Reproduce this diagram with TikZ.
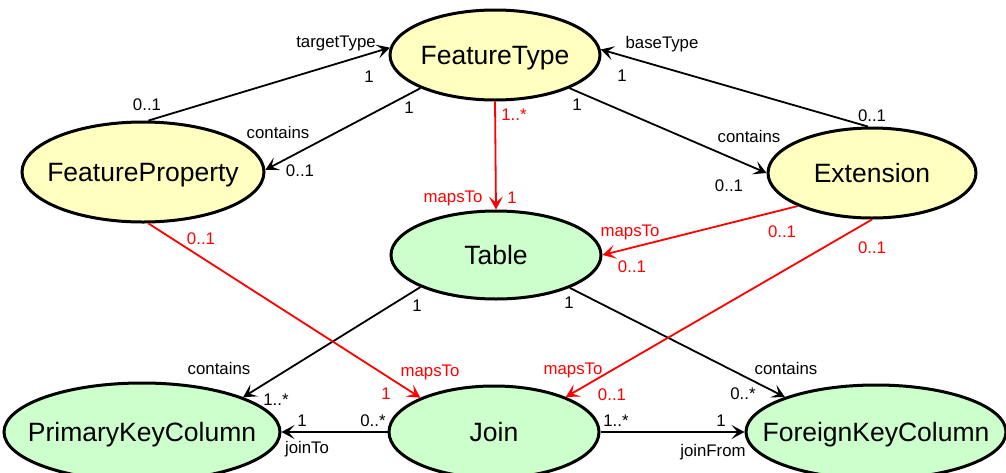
\documentclass[tikz,border=0pt]{standalone}
\usepackage{fontspec}
\setmainfont{Liberation Sans}
\usetikzlibrary{shapes.geometric,arrows.meta}
\definecolor{typefill}{RGB}{255,255,192}
\definecolor{tablefill}{RGB}{204,255,204}
\definecolor{mapred}{RGB}{255,0,0}
% entity name set in a zero-size box, so the ellipse keeps its given size
\newcommand{\entname}[1]{\smash{\raisebox{-0.36em}{\makebox[0pt]{#1}}}}
\tikzset{
  entity/.style={ellipse, draw=black, line width=3pt, inner sep=0pt,
    text height=0pt, text depth=0pt,
    font=\fontsize{26.5}{30}\selectfont},
  typeent/.style={entity, fill=typefill},
  tableent/.style={entity, fill=tablefill},
  assoc/.style={line width=1.8pt, draw=black,
    -{Stealth[length=13pt,width=14pt,inset=6pt]}},
  mapassoc/.style={assoc, draw=mapred, color=mapred},
  lbl/.style={inner sep=0pt, text height=12pt, text depth=0pt,
    font=\fontsize{16.8}{19}\selectfont},
  redlbl/.style={lbl, text=mapred}
}
\begin{document}
\begin{tikzpicture}[x=1pt,y=-1pt]
\useasboundingbox (0,0) rectangle (1006,472);
\begin{scope}
\clip (0,0) rectangle (1006,472);

% entities
\node[typeent, minimum width=210pt, minimum height=90pt] (ft) at (495,55) {\entname{FeatureType}};
\node[typeent, minimum width=242pt, minimum height=100pt] (fp) at (143,172) {\entname{FeatureProperty}};
\node[typeent, minimum width=208pt, minimum height=90pt] (ex) at (872,173) {\entname{Extension}};
\node[tableent, minimum width=210pt, minimum height=88pt] (tb) at (496,255) {\entname{Table}};
\node[tableent, minimum width=210pt, minimum height=92pt] (jn) at (494,432) {\entname{Join}};
\node[tableent, minimum width=276pt, minimum height=98pt] (pk) at (142,432) {\entname{PrimaryKeyColumn}};
\node[tableent, minimum width=260pt, minimum height=94pt] (fk) at (876,432) {\entname{ForeignKeyColumn}};

% black associations
\draw[assoc] (fp.84) -- (ft.176);
\draw[assoc] (ft.204) -- (fp.1);
\draw[assoc] (ex.95) -- (ft.3);
\draw[assoc] (ft.336) -- (ex.180);
\draw[assoc] (tb.203) -- (pk.19);
\draw[assoc] (tb.336) -- (fk.159);
\draw[assoc] (jn.180) -- (pk.0);
\draw[assoc] (jn.0) -- (fk.180);

% red mapping associations
\draw[mapassoc] (ft.270) -- (tb.90);
\draw[mapassoc] (ex.204) -- (tb.0);
\draw[mapassoc] (ex.270) -- (jn.26);
\draw[mapassoc] (fp.276) -- (jn.155);
\end{scope}

% labels of the black associations
\node[lbl] (l1) at (336,41) {targetType};
\node[lbl] (l2) at (369,76) {1};
\node[lbl] (l3) at (147,104) {0..1};
\node[lbl] (l4) at (278,132) {contains};
\node[lbl] (l5) at (409,107) {1};
\node[lbl] (l6) at (300,170) {0..1};
\node[lbl] (l7) at (662,42) {baseType};
\node[lbl] (l8) at (622,75) {1};
\node[lbl] (l9) at (872,115) {0..1};
\node[lbl] (l10) at (749,136) {contains};
\node[lbl] (l11) at (577,104) {1};
\node[lbl] (l12) at (729,185) {0..1};
\node[lbl] (l13) at (417,305) {1};
\node[lbl] (l14) at (219,368) {contains};
\node[lbl] (l15) at (276,399) {1..*};
\node[lbl] (l16) at (569,302) {1};
\node[lbl] (l17) at (786,368) {contains};
\node[lbl] (l18) at (743,393) {0..*};
\node[lbl] (l19) at (302,420) {1};
\node[lbl] (l20) at (373,420) {0..*};
\node[lbl] (l21) at (307,447) {joinTo};
\node[lbl] (l22) at (616,420) {1..*};
\node[lbl] (l23) at (721,420) {1};
\node[lbl] (l24) at (713,450) {joinFrom};

% labels of the red mapping associations
\node[redlbl] (r1) at (514,114) {1..*};
\node[redlbl] (r2) at (453,196) {mapsTo};
\node[redlbl] (r3) at (512,197) {1};
\node[redlbl] (r4) at (630,230) {mapsTo};
\node[redlbl] (r5) at (632,266) {0..1};
\node[redlbl] (r6) at (782,231) {0..1};
\node[redlbl] (r7) at (872,247) {0..1};
\node[redlbl] (r8) at (573,368) {mapsTo};
\node[redlbl] (r9) at (612,394) {0..1};
\node[redlbl] (r10) at (201,238) {0..1};
\node[redlbl] (r11) at (430,370) {mapsTo};
\node[redlbl] (r12) at (386,393) {1};
\end{tikzpicture}
\end{document}
